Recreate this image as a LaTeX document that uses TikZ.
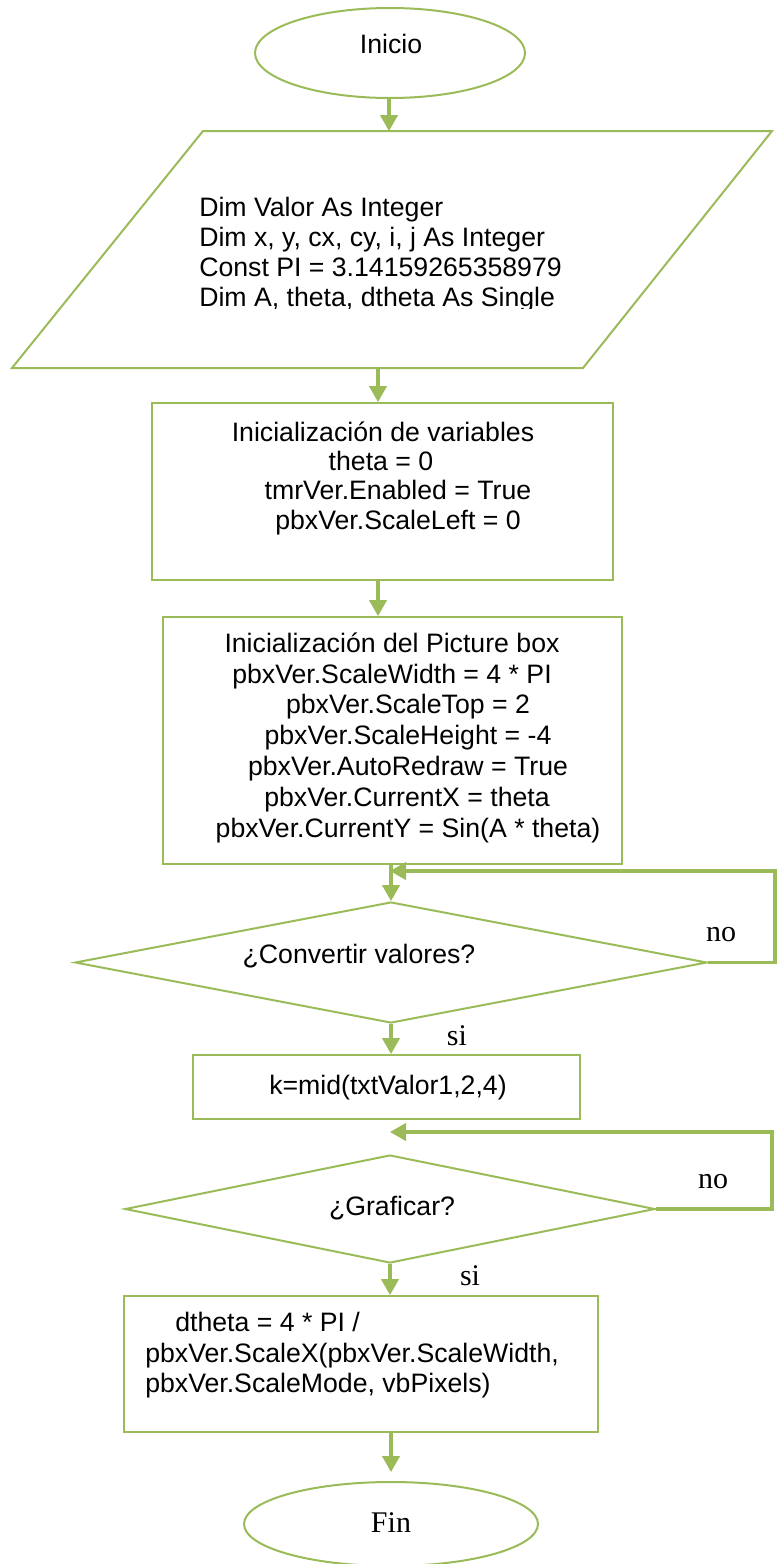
\documentclass[tikz,border=0pt]{standalone}
\usepackage{fontspec}
\setmainfont{Liberation Serif}
\setsansfont{Liberation Sans}
\usetikzlibrary{shapes.geometric,arrows.meta}

\definecolor{oliva}{HTML}{9BBB59}

\begin{document}
\begin{tikzpicture}[x=0.75pt,y=-0.75pt,
  contorno/.style={draw=oliva, line width=1.5pt},
  caja/.style={contorno, rectangle, inner sep=0pt},
  rombo/.style={contorno, diamond, inner sep=0pt},
  ovalo/.style={contorno, ellipse, inner sep=0pt},
  flecha/.style={draw=oliva, line width=2.4pt, -{Triangle[width=13pt,length=12pt]}},
  txt/.style={font=\sffamily\fontsize{20pt}{22pt}\selectfont, inner sep=0pt, anchor=base},
  txtizq/.style={txt, anchor=base west},
  etiq/.style={font=\rmfamily\fontsize{22.5pt}{24pt}\selectfont, inner sep=0pt, anchor=base},
]
% page
\path[fill=white, use as bounding box] (0,0) rectangle (777,1564);

% ---- start ----
\node[ovalo, minimum width=202.5pt, minimum height=67.5pt] (inicio) at (390,53) {};
\node[txt] (tInicio) at (391,53) {Inicio};

% ---- declarations (input/output) ----
\coordinate (pTL) at (203,131);
\coordinate (pTR) at (772,131);
\coordinate (pBR) at (583,368);
\coordinate (pBL) at (12,368);
\draw[contorno] (pTL) -- (pTR) -- (pBR) -- (pBL) -- cycle;
\coordinate (datosN) at (389,131);
\coordinate (datosS) at (378,368);
\begin{scope}
  \clip (0,0) rectangle (777,308);
  \node[txtizq] (d1) at (199,216) {Dim Valor As Integer};
  \node[txtizq] (d2) at (199,246) {Dim x, y, cx, cy, i, j As Integer};
  \node[txtizq] (d3) at (199,276) {Const PI = 3.14159265358979};
  \node[txtizq] (d4) at (199,306) {Dim A, theta, dtheta As Single};
\end{scope}

% ---- variable initialisation ----
\node[caja, minimum width=345.75pt, minimum height=132.75pt] (var) at (382.5,491.5) {};
\node[txt] (v1) at (383,441) {Inicialización de variables};
\node[txt] (v2) at (381,470) {theta = 0};
\node[txt] (v3) at (398,499) {tmrVer.Enabled = True};
\node[txt] (v4) at (398,529) {pbxVer.ScaleLeft = 0};

% ---- picture box initialisation ----
\node[caja, minimum width=344.25pt, minimum height=185.25pt] (pic) at (392.5,740.5) {};
\node[txt] (p1) at (392,652) {Inicialización del Picture box};
\node[txt] (p2) at (392,683) {pbxVer.ScaleWidth = 4 * PI};
\node[txt] (p3) at (408,713) {pbxVer.ScaleTop = 2};
\node[txt] (p4) at (408,744) {pbxVer.ScaleHeight = -4};
\node[txt] (p5) at (408,775) {pbxVer.AutoRedraw = True};
\node[txt] (p6) at (407,806) {pbxVer.CurrentX = theta};
\node[txt] (p7) at (408,837) {pbxVer.CurrentY = Sin(A * theta)};

% ---- first decision ----
\node[rombo, minimum width=474pt, minimum height=90.75pt] (conv) at (391,962.5) {};
\node[txt] (tConv) at (359,963) {¿Convertir valores?};
\node[etiq] (no1) at (721,941) {no};
\node[etiq] (si1) at (457,1045) {si};

% ---- mid() ----
\node[caja, minimum width=290.25pt, minimum height=48pt] (kmid) at (386.5,1087) {};
\node[txt] (tK) at (388,1094) {k=mid(txtValor1,2,4)};

% ---- second decision ----
\node[rombo, minimum width=397.5pt, minimum height=81pt] (graf) at (390,1209) {};
\node[txt] (tGraf) at (392,1215) {¿Graficar?};
\node[etiq] (no2) at (713,1188) {no};
\node[etiq] (si2) at (470,1285) {si};

% ---- dtheta ----
\node[caja, minimum width=355.5pt, minimum height=102pt] (calc) at (361,1364) {};
\node[txtizq] (c1) at (175,1331) {dtheta = 4 * PI /};
\node[txtizq] (c2) at (145,1362) {pbxVer.ScaleX(pbxVer.ScaleWidth,};
\node[txtizq] (c3) at (145,1392) {pbxVer.ScaleMode, vbPixels)};

% ---- end ----
\node[ovalo, minimum width=220.5pt, minimum height=63pt] (fin) at (391,1524) {};
\node[etiq] (tFin) at (391,1532) {Fin};

% ---- loop return points ----
\coordinate (r1) at (775,871);
\coordinate (entrada1) at (390,871);
\coordinate (r2) at (772,1132);
\coordinate (entrada2) at (390,1132);

% ---- connectors ----
\draw[flecha] (inicio.south -| datosN) -- (datosN);
\draw[flecha] (datosS) -- (datosS |- var.north);
\draw[flecha] (var.south -| datosS) -- (pic.north -| datosS);
\draw[flecha] (pic.south -| conv.north) -- (conv.north);
\draw[flecha] (conv.east) -| (r1) -- (entrada1);
\draw[flecha] (conv.south) -- (conv.south |- kmid.north);
\draw[flecha] (graf.east) -| (r2) -- (entrada2);
\draw[flecha] (graf.south) -- (graf.south |- calc.north);
\draw[flecha, shorten >=6.75pt] (calc.south -| fin.north) -- (fin.north);
\end{tikzpicture}
\end{document}
